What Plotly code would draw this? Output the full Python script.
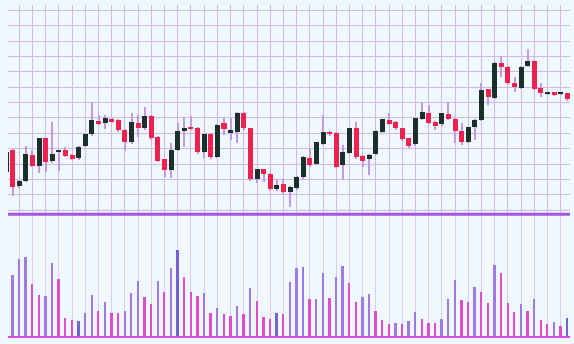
import plotly.graph_objects as go

# ---- data ----
idx = list(range(86))
open_ = [128.3, 150.0, 114.0, 119.0, 145.0, 134.0, 161.7, 139.0, 147.7, 150.0,
         145.0, 141.7, 154.0, 165.7, 179.0, 176.7, 180.7, 180.0, 170.0, 157.7,
         176.7, 171.7, 184.3, 163.3, 140.7, 130.0, 150.0, 169.0, 173.3, 172.3,
         147.7, 165.7, 143.3, 176.7, 166.7, 168.3, 186.7, 171.7, 120.7, 130.7,
         126.0, 110.7, 115.7, 108.3, 111.7, 122.7, 142.3, 136.0, 156.0, 168.3,
         166.7, 135.0, 147.3, 171.7, 144.0, 140.7, 146.0, 168.3, 180.0, 177.7,
         171.7, 161.7, 155.7, 181.0, 186.7, 178.3, 175.7, 186.0, 181.0, 169.3,
         158.3, 172.7, 180.0, 210.7, 202.3, 237.3, 233.3, 217.3, 212.3, 234.0,
         239.3, 212.3, 206.3, 207.7, 206.3, 206.7]
high = [149.5, 151.0, 120.0, 154.0, 150.0, 162.0, 162.5, 178.3, 150.5, 153.3,
        146.0, 154.0, 166.5, 197.7, 185.0, 185.0, 182.5, 181.0, 171.0, 186.7,
        185.0, 193.3, 185.5, 164.5, 141.5, 156.7, 176.7, 183.3, 184.0, 173.5,
        166.5, 167.0, 176.0, 181.7, 181.7, 188.0, 188.0, 172.5, 131.5, 131.5,
        127.0, 120.7, 120.7, 114.0, 124.0, 144.0, 150.7, 158.5, 185.0, 169.5,
        167.7, 155.0, 172.5, 177.7, 145.0, 146.0, 170.0, 181.5, 186.7, 179.0,
        172.5, 162.5, 182.5, 196.7, 195.0, 179.0, 187.5, 198.3, 182.0, 176.7,
        173.5, 180.7, 216.7, 211.5, 238.0, 244.3, 234.0, 223.3, 234.0, 250.7,
        240.0, 216.7, 208.0, 208.5, 208.0, 207.5]
low = [127.0, 104.0, 112.0, 118.5, 133.5, 127.3, 128.3, 137.5, 129.0, 143.5,
       140.0, 140.5, 153.0, 164.5, 175.0, 171.0, 177.5, 168.0, 149.0, 156.5,
       163.3, 170.5, 160.5, 138.0, 122.7, 122.0, 149.0, 153.3, 170.5, 146.5,
       142.3, 141.5, 142.0, 165.0, 160.0, 156.7, 170.5, 119.5, 116.7, 118.3,
       109.5, 109.5, 106.5, 92.7, 110.5, 121.5, 133.5, 135.0, 155.0, 164.5,
       132.0, 120.0, 146.5, 141.5, 132.7, 125.0, 145.0, 167.5, 175.0, 170.5,
       159.5, 152.5, 154.5, 180.0, 176.5, 170.0, 174.5, 180.0, 156.7, 155.0,
       157.5, 160.0, 179.0, 195.0, 201.5, 223.3, 215.5, 208.3, 211.5, 233.0,
       210.0, 203.3, 205.5, 204.0, 205.5, 199.5]
close = [148.3, 113.3, 119.3, 145.7, 134.3, 161.7, 137.7, 146.0, 150.0, 144.3,
         141.0, 153.3, 165.7, 180.0, 176.0, 181.7, 178.3, 170.0, 158.3, 177.7,
         171.7, 184.3, 161.7, 139.3, 130.0, 150.0, 169.3, 172.3, 171.7, 147.7,
         165.7, 142.7, 175.0, 170.7, 170.0, 186.7, 171.7, 120.7, 131.0, 125.7,
         110.7, 115.0, 107.7, 113.3, 123.3, 143.3, 135.0, 157.7, 168.3, 165.7,
         133.3, 148.3, 171.7, 142.7, 139.3, 145.0, 169.0, 180.7, 176.0, 171.7,
         160.7, 154.0, 181.7, 187.7, 177.3, 174.3, 186.7, 181.0, 169.0, 158.3,
         172.7, 180.0, 210.0, 203.3, 237.3, 232.7, 216.7, 212.7, 233.3, 239.3,
         211.0, 206.7, 207.7, 206.0, 207.7, 200.7]
volume = [40.0, 61.7, 77.4, 79.4, 52.4, 42.0, 40.7, 73.4, 58.0, 18.4,
          16.4, 16.0, 24.0, 41.7, 25.7, 34.7, 23.4, 23.4, 25.4, 43.7,
          56.0, 39.4, 32.4, 56.0, 45.0, 68.4, 86.7, 60.0, 44.4, 40.7,
          44.0, 23.4, 29.0, 22.7, 20.7, 30.7, 22.7, 48.4, 35.7, 19.4,
          18.0, 24.0, 22.7, 54.7, 69.0, 69.4, 37.4, 37.4, 64.0, 39.0,
          60.0, 70.7, 53.4, 35.0, 39.4, 42.7, 25.7, 16.7, 12.7, 13.4,
          12.7, 16.0, 25.0, 17.4, 13.4, 13.4, 17.7, 37.7, 56.7, 36.7,
          34.7, 49.4, 44.4, 33.4, 71.7, 63.4, 34.0, 24.4, 32.4, 25.7,
          37.7, 16.7, 12.7, 14.7, 10.7, 18.4]
vol_tone = list("P" "PPPMMPPMMM" "BPPMPMMPPP" "MMPMPBMMMP" "MPMMPMPMMM"
                "BMPPPMPPMP" "PMMPPMMMPM" "PPMMMPPPMM" "PMMPMMMPMP"
                "MMPMB")

# ---- styles ----
UP = "#1b2f2b"
DOWN = "#f0204f"
WICK = "#c39ae0"
TONES = {"P": "#a07ae2", "M": "#e04ccc", "B": "#7464d8"}
BG = "#eff8fd"

body_base = [min(o, c) for o, c in zip(open_, close)]
body_len = [max(abs(c - o), 1.2) for o, c in zip(open_, close)]
body_col = [UP if c >= o else DOWN for o, c in zip(open_, close)]
wick_len = [h - l for h, l in zip(high, low)]
vol_col = [TONES[t] for t in vol_tone]

fig = go.Figure()
fig.add_trace(go.Bar(x=idx, y=wick_len, base=low, width=0.16,
                     marker=dict(color=WICK, line=dict(width=0)),
                     xaxis="x", yaxis="y", showlegend=False))
fig.add_trace(go.Bar(x=idx, y=body_len, base=body_base, width=0.76,
                     marker=dict(color=body_col, line=dict(width=0)),
                     xaxis="x", yaxis="y", showlegend=False))
fig.add_trace(go.Bar(x=idx, y=volume, width=0.28,
                     marker=dict(color=vol_col, line=dict(width=0)),
                     xaxis="x2", yaxis="y2", showlegend=False))

split = 0.37
xr = [0.29, 85.4]
fig.update_layout(
    width=574, height=344,
    margin=dict(l=8, r=4, t=5, b=7),
    paper_bgcolor=BG, plot_bgcolor=BG,
    barmode="overlay", bargap=0,
    xaxis=dict(domain=[0, 1], range=xr, anchor="y", showticklabels=False,
               showgrid=True, gridcolor="#d2b6f2", gridwidth=1,
               tick0=0, dtick=2, zeroline=False, ticks=""),
    yaxis=dict(domain=[split, 1], range=[86, 295], showticklabels=False,
               showgrid=True, gridcolor="#d2b6f2", gridwidth=1,
               tick0=105.3, dtick=15.36, zeroline=False, ticks=""),
    xaxis2=dict(domain=[0, 1], range=xr, anchor="y2", showticklabels=False,
                showgrid=True, gridcolor="#dccdf6", gridwidth=1,
                tick0=0, dtick=2, zeroline=False, ticks=""),
    yaxis2=dict(domain=[0, split], range=[0, 122.7], showticklabels=False,
                showgrid=False, zeroline=False, ticks=""),
    shapes=[
        dict(type="line", xref="paper", yref="paper", x0=0, x1=1,
             y0=split, y1=split, line=dict(color="#a456e0", width=3)),
        dict(type="line", xref="paper", yref="paper", x0=0, x1=1,
             y0=0, y1=0, line=dict(color="#d64ee0", width=2)),
    ],
)

fig.write_html("out.html")
